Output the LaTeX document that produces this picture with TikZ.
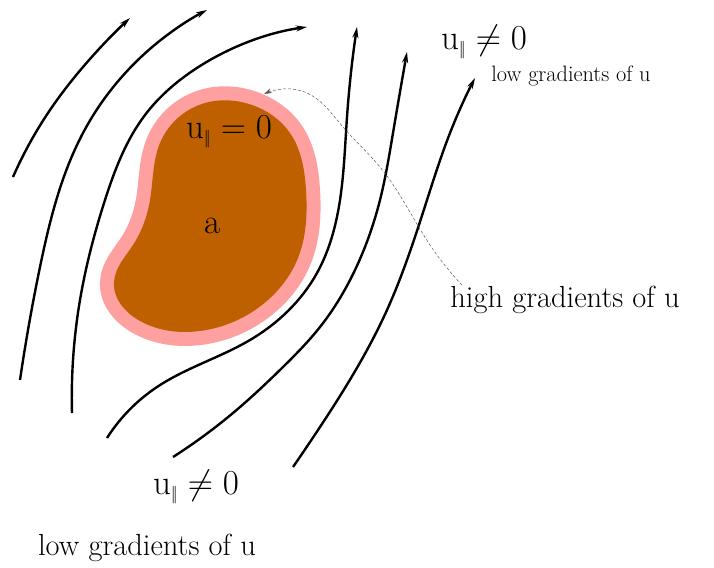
\RequirePackage{fix-cm}
\documentclass[tikz,border=0pt]{standalone}
\usepackage{fontspec}
\usetikzlibrary{arrows.meta,hobby}
\definecolor{blobbrown}{RGB}{191,96,0}
\definecolor{blobpink}{RGB}{255,160,160}
\newcommand{\upar}{\mathrm{u}_{\scriptscriptstyle |\!|}}
\tikzset{
  stream/.style={line width=2.4pt, -{Stealth[length=11pt,width=6pt]}},
  hint/.style={line width=0.5pt, gray!70!black, densely dashed, -{Stealth[length=8pt,width=5pt]}},
  lab/.style={inner sep=0pt, font=\fontsize{30.5}{33}\selectfont},
  smalllab/.style={inner sep=0pt, font=\fontsize{22.3}{25}\selectfont},
  mathlab/.style={inner sep=0pt, font=\fontsize{35}{38}\selectfont}
}
\begin{document}
\begin{tikzpicture}[x=1pt,y=-1pt]
\useasboundingbox (0,0) rectangle (714,567);
% blob
\def\blobpts{(205,103) (252,105) (290,133) (306,190) (298,258) (262,305)
 (200,331) (140,321) (114,282) (133,245) (150,200) (160,143)}
\draw[blobpink, line width=28pt, fill=blobbrown, closed hobby] plot coordinates {\blobpts};
\fill[blobbrown, closed hobby] plot coordinates {\blobpts};
% streamlines
\draw[stream, use Hobby shortcut] (13,177) .. (50,110) .. (83,67) .. (130,18);
\draw[stream, use Hobby shortcut] (20,380) .. (40,267) .. (83,133) .. (157,43) .. (207,10);
\draw[stream, use Hobby shortcut] (72,413) .. (80,300) .. (105,200) .. (145,115) .. (200,66) .. (307,27);
\draw[stream, use Hobby shortcut] (107,438) .. (157,387) .. (250,340) .. (317,273) .. (340,200) .. (347,117) .. (357,27);
\draw[stream, use Hobby shortcut] (173,457) .. (233,413) .. (283,367) .. (320,327) .. (355,270) .. (380,200) .. (393,133) .. (407,52);
\draw[stream, use Hobby shortcut] (293,467) .. (320,427) .. (387,310) .. (427,200) .. (450,133) .. (475,78);
% labels
\node[mathlab] (top) at (484,42) {$\upar\neq 0$};
\node[smalllab] (lowtop) at (571,76) {low gradients of u};
\node[mathlab] (inside) at (229,132) {$\upar= 0$};
\node[mathlab] (a) at (213,226) {a};
\node[lab] (high) at (565,300) {high gradients of u};
\node[mathlab] (bot) at (196,487) {$\upar\neq 0$};
\node[lab] (lowbot) at (147,548) {low gradients of u};
% hint arrow
\coordinate (hs) at (462,285);
\coordinate (ht) at (264,94);
\draw[hint, use Hobby shortcut] (hs) .. (430,245) .. (380,167) .. (343,127) .. (307,93) .. (283,89) .. (ht);
\end{tikzpicture}
\end{document}
